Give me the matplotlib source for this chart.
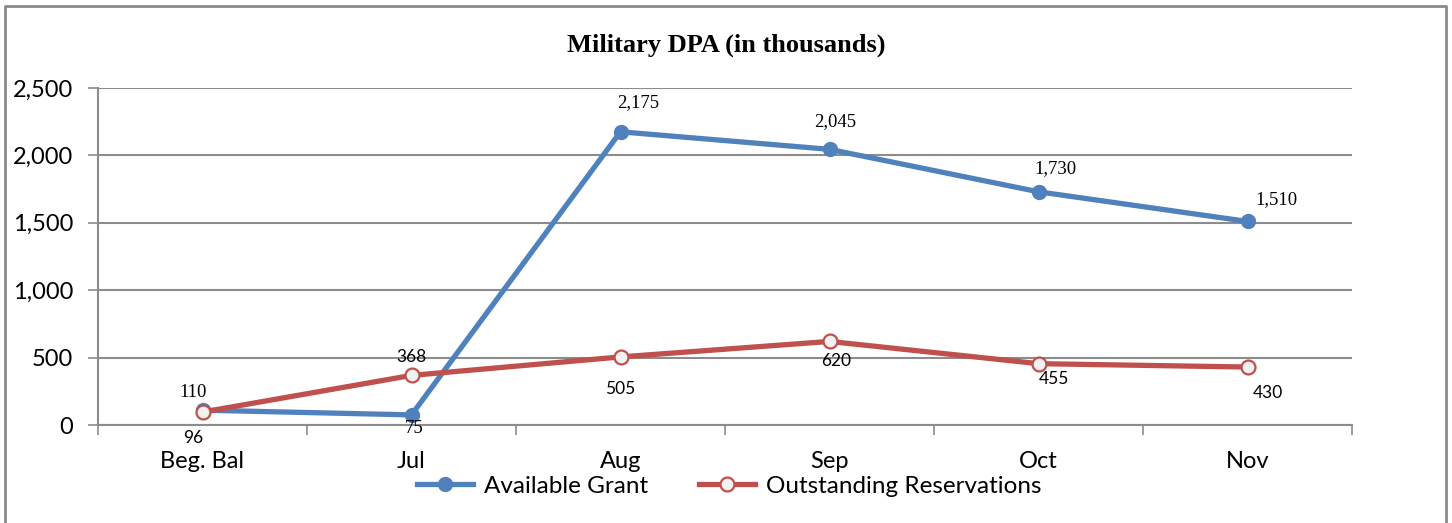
import matplotlib.pyplot as plt
from matplotlib.lines import Line2D
from matplotlib.ticker import FuncFormatter, FixedLocator

categories = ['Beg. Bal', 'Jul', 'Aug', 'Sep', 'Oct', 'Nov']
available_grant = [110, 75, 2175, 2045, 1730, 1510]
outstanding = [96, 368, 505, 620, 455, 430]

# label offsets in points (manually placed in the original)
grant_offsets = [(-7, 13), (2, -10), (13, 21), (4, 20), (12, 17), (21, 16)]
outst_offsets = [(-7, -19), (0, 13), (0, -23), (5, -14), (11, -11), (15, -19)]

blue = '#4F81BD'
red = '#C0504D'
grid_gray = '#8c8c8c'

fig = plt.figure(figsize=(14.52, 5.23), dpi=100)
ax = fig.add_axes([98/1452, 1-425/523, 1254/1452, 337/523])

x = list(range(len(categories)))
ax.plot(x, available_grant, color=blue, lw=3.8, marker='o', ms=10,
        mfc=blue, mec=blue, label='Available Grant', zorder=3)
ax.plot(x, outstanding, color=red, lw=3.8, marker='o', ms=10,
        mfc='#f2f2f2', mec=red, mew=1.6, label='Outstanding Reservations', zorder=4)

for xi, v, off in zip(x, available_grant, grant_offsets):
    ax.annotate(f'{v:,}', (xi, v), xytext=off, textcoords='offset points',
                ha='center', va='center', fontsize=13.5, family='Liberation Serif')
for xi, v, off in zip(x, outstanding, outst_offsets):
    ax.annotate(f'{v:,}', (xi, v), xytext=off, textcoords='offset points',
                ha='center', va='center', fontsize=12.5, family='Lato')

ax.set_xlim(-0.5, len(categories) - 0.5)
ax.set_ylim(0, 2500)
ax.set_yticks(range(0, 2501, 500))
ax.yaxis.set_major_formatter(FuncFormatter(lambda v, p: f'{int(v):,}'))
ax.set_xticks(x)
ax.set_xticklabels(categories, family='Lato', fontsize=17)
ax.xaxis.set_minor_locator(FixedLocator([i - 0.5 for i in range(len(categories) + 1)]))
ax.tick_params(axis='x', which='major', length=0, pad=19)
ax.tick_params(axis='x', which='minor', length=7, width=1.2, color=grid_gray)
ax.tick_params(axis='y', length=7, width=1.2, color=grid_gray, labelsize=17, pad=11)
for lab in ax.get_yticklabels():
    lab.set_family('Lato')

ax.grid(axis='y', color=grid_gray, lw=1.5)
ax.set_axisbelow(True)
for s in ['top', 'right']:
    ax.spines[s].set_visible(False)
for s in ['left', 'bottom']:
    ax.spines[s].set_color(grid_gray)
    ax.spines[s].set_linewidth(1.5)

fig.text(726/1452, 1-45/523, 'Military DPA (in thousands)', ha='center', va='center',
         fontsize=19, fontweight='bold', family='Liberation Serif')

fig.legend(loc='center', bbox_to_anchor=(729/1452, 1-486/523), ncol=2, frameon=False,
           prop={'family': 'Lato', 'size': 17.5}, handlelength=2.3, handletextpad=0.45,
           columnspacing=2.1, borderpad=0)

# outer chart border
border = Line2D([5/1452, 5/1452, 1446/1452, 1446/1452], [0, 1-6/523, 1-6/523, 0],
                transform=fig.transFigure, color='#8a8a8a', lw=2)
fig.add_artist(border)

fig.savefig('out.png', dpi=100)
